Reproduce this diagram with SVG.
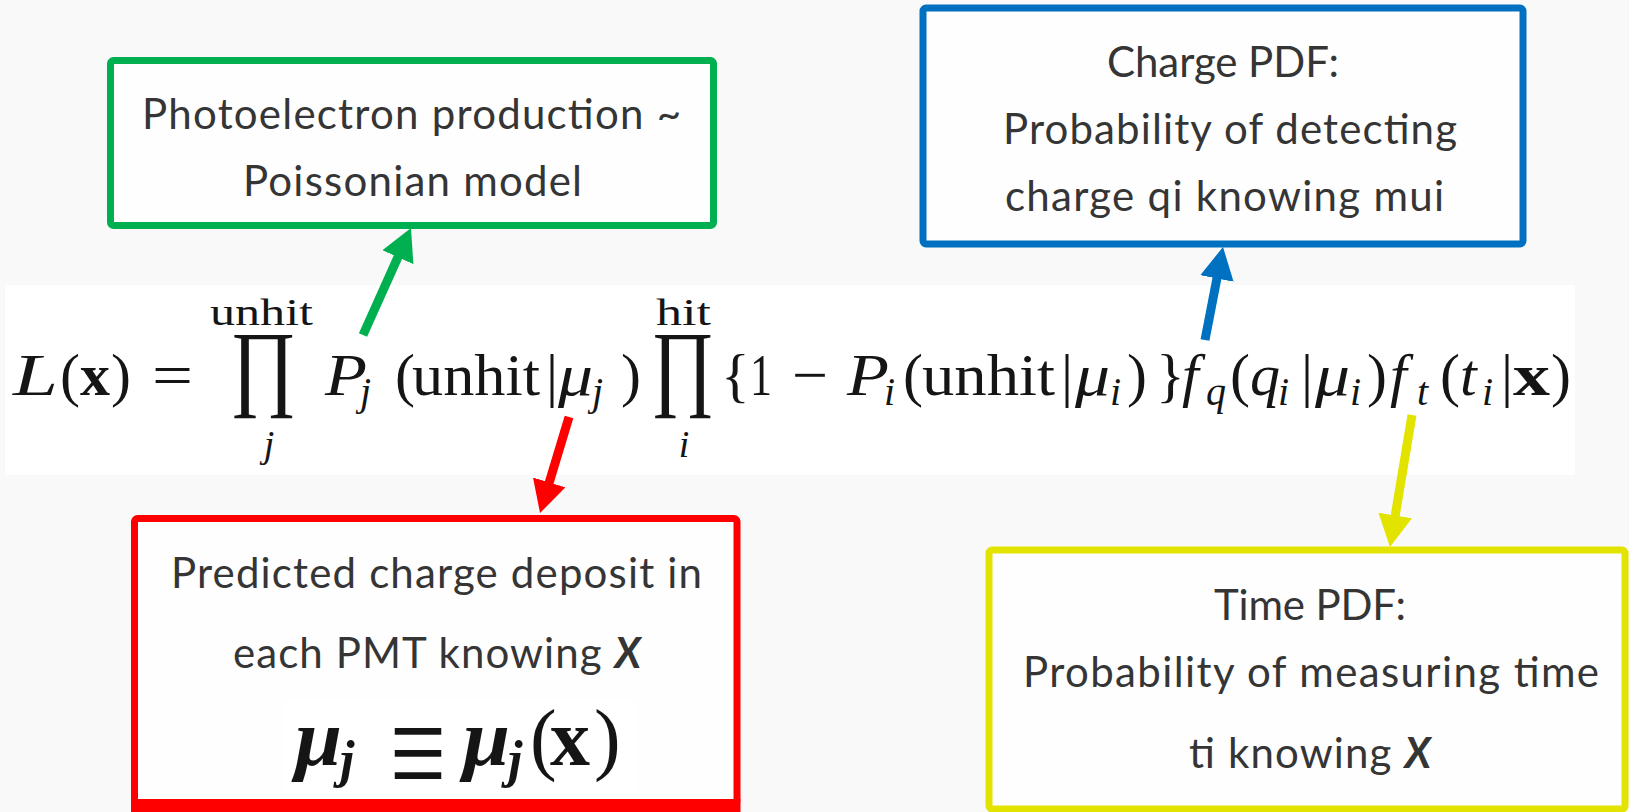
<svg xmlns="http://www.w3.org/2000/svg" width="1629" height="812" viewBox="0 0 1629 812">
<defs>
<style>
.lbl{font-family:Lato,"Open Sans","Liberation Sans",sans-serif;font-size:42px;fill:#353535;text-anchor:middle}
.bx{fill:#fefefe;stroke-width:7}
.m{font-family:"Liberation Serif","DejaVu Serif",serif;font-size:60px;fill:#151515}
.it{font-style:italic}
.sb{font-family:"Liberation Serif","DejaVu Serif",serif;font-size:40px;font-style:italic;fill:#151515}
.lim{font-family:"Liberation Serif","DejaVu Serif",serif;font-size:38px;fill:#151515;text-anchor:middle}
.big{font-family:"Liberation Serif","DejaVu Serif",serif;font-size:96px;fill:#151515}
.bi{font-weight:bold;font-style:italic}
.bd{font-weight:bold}
</style>
<marker id="hg" markerUnits="userSpaceOnUse" markerWidth="34" markerHeight="36" refX="2" refY="17" orient="auto"><path d="M0,0 L32,17 L0,34 z" fill="#00B050"/></marker>
<marker id="hb" markerUnits="userSpaceOnUse" markerWidth="34" markerHeight="36" refX="2" refY="17" orient="auto"><path d="M0,0 L32,17 L0,34 z" fill="#0070C0"/></marker>
<marker id="hr" markerUnits="userSpaceOnUse" markerWidth="34" markerHeight="36" refX="2" refY="17" orient="auto"><path d="M0,0 L32,17 L0,34 z" fill="#FF0000"/></marker>
<marker id="hy" markerUnits="userSpaceOnUse" markerWidth="34" markerHeight="36" refX="2" refY="17" orient="auto"><path d="M0,0 L32,17 L0,34 z" fill="#E3E300"/></marker>
</defs>
<rect x="0" y="0" width="1629" height="812" fill="#f9f9f9"/>
<rect x="5" y="285" width="1570" height="190" fill="#ffffff"/>

<g id="equation">
<text class="m it" x="13" y="395" textLength="45" lengthAdjust="spacingAndGlyphs">L</text>
<text class="m" x="60" y="395">(</text>
<text class="m bd" x="80" y="395" textLength="30" lengthAdjust="spacingAndGlyphs">x</text>
<text class="m" x="111" y="395">)</text>
<text class="m" x="152" y="395" textLength="41" lengthAdjust="spacingAndGlyphs">=</text>
<text class="big" x="230" y="398" textLength="67" lengthAdjust="spacingAndGlyphs">∏</text>
<text class="lim" x="261.5" y="325" textLength="103" lengthAdjust="spacingAndGlyphs">unhit</text>
<text class="lim it" x="269" y="457">j</text>
<text class="m it" x="325" y="395" textLength="42" lengthAdjust="spacingAndGlyphs">P</text>
<text class="sb" x="360" y="405">j</text>
<text class="m" x="395" y="395">(</text>
<text class="m" x="412" y="395" textLength="128" lengthAdjust="spacingAndGlyphs">unhit</text>
<text class="m" x="546" y="395">|</text>
<text class="m it" x="558" y="395" textLength="35" lengthAdjust="spacingAndGlyphs">μ</text>
<text class="sb" x="592" y="405">j</text>
<text class="m" x="621" y="395">)</text>
<text class="big" x="651" y="398" textLength="64" lengthAdjust="spacingAndGlyphs">∏</text>
<text class="lim" x="683.5" y="325" textLength="55" lengthAdjust="spacingAndGlyphs">hit</text>
<text class="lim it" x="684" y="457">i</text>
<text class="m" x="721" y="395">{</text>
<text class="m" x="750" y="395" textLength="22" lengthAdjust="spacingAndGlyphs">1</text>
<text class="m" x="792" y="395" textLength="36" lengthAdjust="spacingAndGlyphs">−</text>
<text class="m it" x="847" y="395" textLength="42" lengthAdjust="spacingAndGlyphs">P</text>
<text class="sb" x="884" y="405">i</text>
<text class="m" x="903" y="395">(</text>
<text class="m" x="922" y="395" textLength="133" lengthAdjust="spacingAndGlyphs">unhit</text>
<text class="m" x="1061" y="395">|</text>
<text class="m it" x="1075" y="395" textLength="35" lengthAdjust="spacingAndGlyphs">μ</text>
<text class="sb" x="1110" y="405">i</text>
<text class="m" x="1127" y="395">)</text>
<text class="m" x="1156" y="395">}</text>
<text class="m it" x="1182" y="395">f</text>
<text class="sb" x="1206" y="405">q</text>
<text class="m" x="1230" y="395">(</text>
<text class="m it" x="1250" y="395">q</text>
<text class="sb" x="1278" y="405">i</text>
<text class="m" x="1301" y="395">|</text>
<text class="m it" x="1315" y="395" textLength="35" lengthAdjust="spacingAndGlyphs">μ</text>
<text class="sb" x="1350" y="405">i</text>
<text class="m" x="1367" y="395">)</text>
<text class="m it" x="1390" y="395">f</text>
<text class="sb" x="1417" y="405">t</text>
<text class="m" x="1440" y="395">(</text>
<text class="m it" x="1460" y="395">t</text>
<text class="sb" x="1482" y="405">i</text>
<text class="m" x="1501" y="395">|</text>
<text class="m bd" x="1513" y="395" textLength="37" lengthAdjust="spacingAndGlyphs">x</text>
<text class="m" x="1551" y="395">)</text>
</g>

<g id="connectors" fill="none" stroke-width="9">
<line x1="363" y1="335" x2="398.7" y2="255.4" stroke="#00B050" marker-end="url(#hg)"/>
<line x1="1205" y1="340" x2="1217.3" y2="276.5" stroke="#0070C0" marker-end="url(#hb)"/>
<line x1="569" y1="417" x2="548.7" y2="484.3" stroke="#FF0000" marker-end="url(#hr)"/>
<line x1="1412" y1="415" x2="1394.9" y2="517.4" stroke="#E3E300" marker-end="url(#hy)"/>
</g>

<g id="node-poisson">
<rect class="bx" x="110.5" y="60.5" width="603" height="165" rx="3" stroke="#00B050"/>
<text class="lbl" x="411.5" y="129" textLength="539">Photoelectron production ~</text>
<text class="lbl" x="412.5" y="196" textLength="339">Poissonian model</text>
</g>

<g id="node-charge">
<rect class="bx" x="923" y="8" width="600" height="236" rx="3" stroke="#0070C0"/>
<text class="lbl" x="1223" y="77" textLength="232">Charge PDF:</text>
<text class="lbl" x="1230" y="144" textLength="454">Probability of detecting</text>
<text class="lbl" x="1224.5" y="211" textLength="439">charge qi knowing mui</text>
</g>

<g id="node-predicted">
<rect class="bx" x="134.5" y="518.5" width="602.5" height="285" rx="3" stroke="#FF0000"/>
<rect x="131" y="799" width="609.5" height="13" fill="#FF0000"/>
<rect x="283" y="700" width="354" height="95" fill="#ffffff"/>
<text class="lbl" x="436.5" y="588" textLength="531">Predicted charge deposit in</text>
<text class="lbl" x="437" y="668" textLength="408">each PMT knowing <tspan class="bi">X</tspan></text>
<g font-family="'Liberation Serif','DejaVu Serif',serif" fill="#151515">
<text class="bi" x="295" y="765" font-size="80" textLength="47" lengthAdjust="spacingAndGlyphs">μ</text>
<text class="bi" x="340" y="777" font-size="52">j</text>
<text x="0" y="0" font-family="'Noto Sans CJK JP','Noto Sans CJK SC',sans-serif" font-size="64" text-anchor="middle" transform="translate(418,792) scale(1,1.6)">≡</text>
<text class="bi" x="463" y="765" font-size="80" textLength="47" lengthAdjust="spacingAndGlyphs">μ</text>
<text class="bi" x="508" y="777" font-size="52">j</text>
<text x="530" y="765" font-size="80">(</text>
<text class="bd" x="550" y="765" font-size="80" textLength="40" lengthAdjust="spacingAndGlyphs">x</text>
<text x="594" y="765" font-size="80">)</text>
</g>
</g>

<g id="node-time">
<rect class="bx" x="989" y="550" width="636" height="259" rx="3" stroke="#E3E300" stroke-width="6"/>
<text class="lbl" x="1310" y="620" textLength="192">Time PDF:</text>
<text class="lbl" x="1311" y="687" textLength="576">Probability of measuring time</text>
<text class="lbl" x="1310" y="768" textLength="242">ti knowing <tspan class="bi">X</tspan></text>
</g>
</svg>
